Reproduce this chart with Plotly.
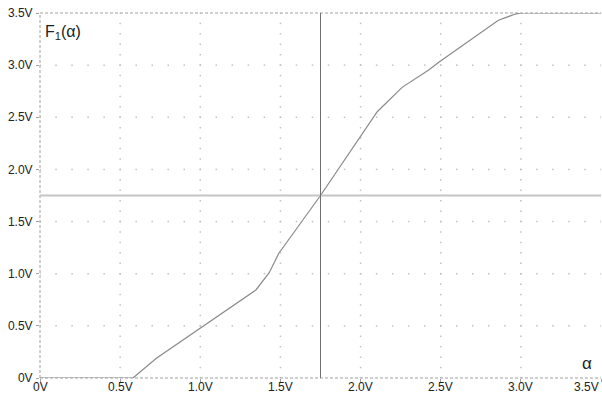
import numpy as np
import plotly.graph_objects as go

# transfer curve F1(alpha)
alpha = [0, 0.58, 0.726, 1.347, 1.43, 1.49, 1.586, 1.75, 2.104, 2.259, 2.425, 2.49, 2.86, 2.965, 3.0, 3.5]
f1 = [0, 0, 0.189, 0.844, 1.01, 1.196, 1.40, 1.75, 2.553, 2.787, 2.953, 3.03, 3.43, 3.49, 3.5, 3.5]

tick_vals = [0, 0.5, 1.0, 1.5, 2.0, 2.5, 3.0, 3.5]
tick_text = ['0V', '0.5V', '1.0V', '1.5V', '2.0V', '2.5V', '3.0V', '3.5V']

cross_x = 1.75
cross_y = 1.75

FONT = 'Arial, Liberation Sans, sans-serif'
TXT = '#222222'

fig = go.Figure()

# dotted grid: dots every 0.1V along the 0.5V grid lines
minor = np.round(np.arange(0, 3.5001, 0.1), 2)
major = tick_vals[1:-1]
gx, gy = [], []
for m in major:
    gx += [m] * len(minor)
    gy += list(minor)
    gx += list(minor)
    gy += [m] * len(minor)
fig.add_trace(go.Scatter(x=gx, y=gy, mode='markers',
                         marker=dict(symbol='square', size=1.5, color='#c0c0c0', line=dict(width=0)),
                         hoverinfo='skip', showlegend=False))

# frame: dashed left, bottom, top
frame = dict(color='#a0a0a0', width=1, dash='3px,2px')
fig.add_shape(type='line', xref='x domain', yref='y domain', x0=0, x1=0, y0=0, y1=1, line=frame)
fig.add_shape(type='line', xref='x domain', yref='y domain', x0=0, x1=1, y0=0, y1=0, line=frame)
fig.add_shape(type='line', xref='x domain', yref='y domain', x0=0, x1=1, y0=1, y1=1, line=frame)

# cursor lines
fig.add_shape(type='line', xref='x domain', yref='y', x0=0, x1=1, y0=cross_y, y1=cross_y,
              line=dict(color='#c4c4c4', width=2))
fig.add_shape(type='line', xref='x', yref='y domain', x0=cross_x, x1=cross_x, y0=0, y1=1,
              line=dict(color='#707070', width=1))

fig.add_trace(go.Scatter(x=alpha, y=f1, mode='lines', line=dict(color='#8a8a8a', width=1.2),
                         cliponaxis=False, showlegend=False))

# x tick labels as annotations so the last one stays inside the page
for v, t in zip(tick_vals, tick_text):
    fig.add_annotation(x=v, y=0, xref='x', yref='paper', text=t, showarrow=False,
                       xanchor='right' if v == tick_vals[-1] else 'center', yanchor='top', yshift=0,
                       font=dict(family=FONT, size=12, color=TXT))

fig.add_annotation(x=0, y=1, xref='paper', yref='paper', text='F<sub>1</sub>(α)', showarrow=False,
                   xanchor='left', yanchor='top', xshift=3, yshift=-8,
                   font=dict(family=FONT, size=16, color=TXT))
fig.add_annotation(x=1, y=0, xref='paper', yref='paper', text='α', showarrow=False,
                   xanchor='right', yanchor='bottom', xshift=-7, yshift=3,
                   font=dict(family=FONT, size=17, color=TXT))

fig.update_xaxes(range=[0, 3.5], showgrid=False, zeroline=False, showline=False, automargin=False,
                 tickvals=tick_vals, showticklabels=False, ticks='outside', ticklen=3,
                 tickcolor='#a0a0a0', tickwidth=1)
fig.update_yaxes(range=[0, 3.5], showgrid=False, zeroline=False, showline=False, automargin=False,
                 tickvals=tick_vals, ticktext=tick_text, ticks='outside', ticklen=3,
                 tickcolor='#a0a0a0', tickwidth=1, ticklabelstandoff=1,
                 tickfont=dict(family=FONT, size=12, color=TXT))

fig.update_layout(width=602, height=396, margin=dict(l=40, r=1, t=13, b=18),
                  plot_bgcolor='white', paper_bgcolor='white', showlegend=False)

# drop the default body margin so the figure sits at the window's corner
fig.write_html("out.html", config={'displayModeBar': False},
               post_script="document.body.style.margin='0';")
